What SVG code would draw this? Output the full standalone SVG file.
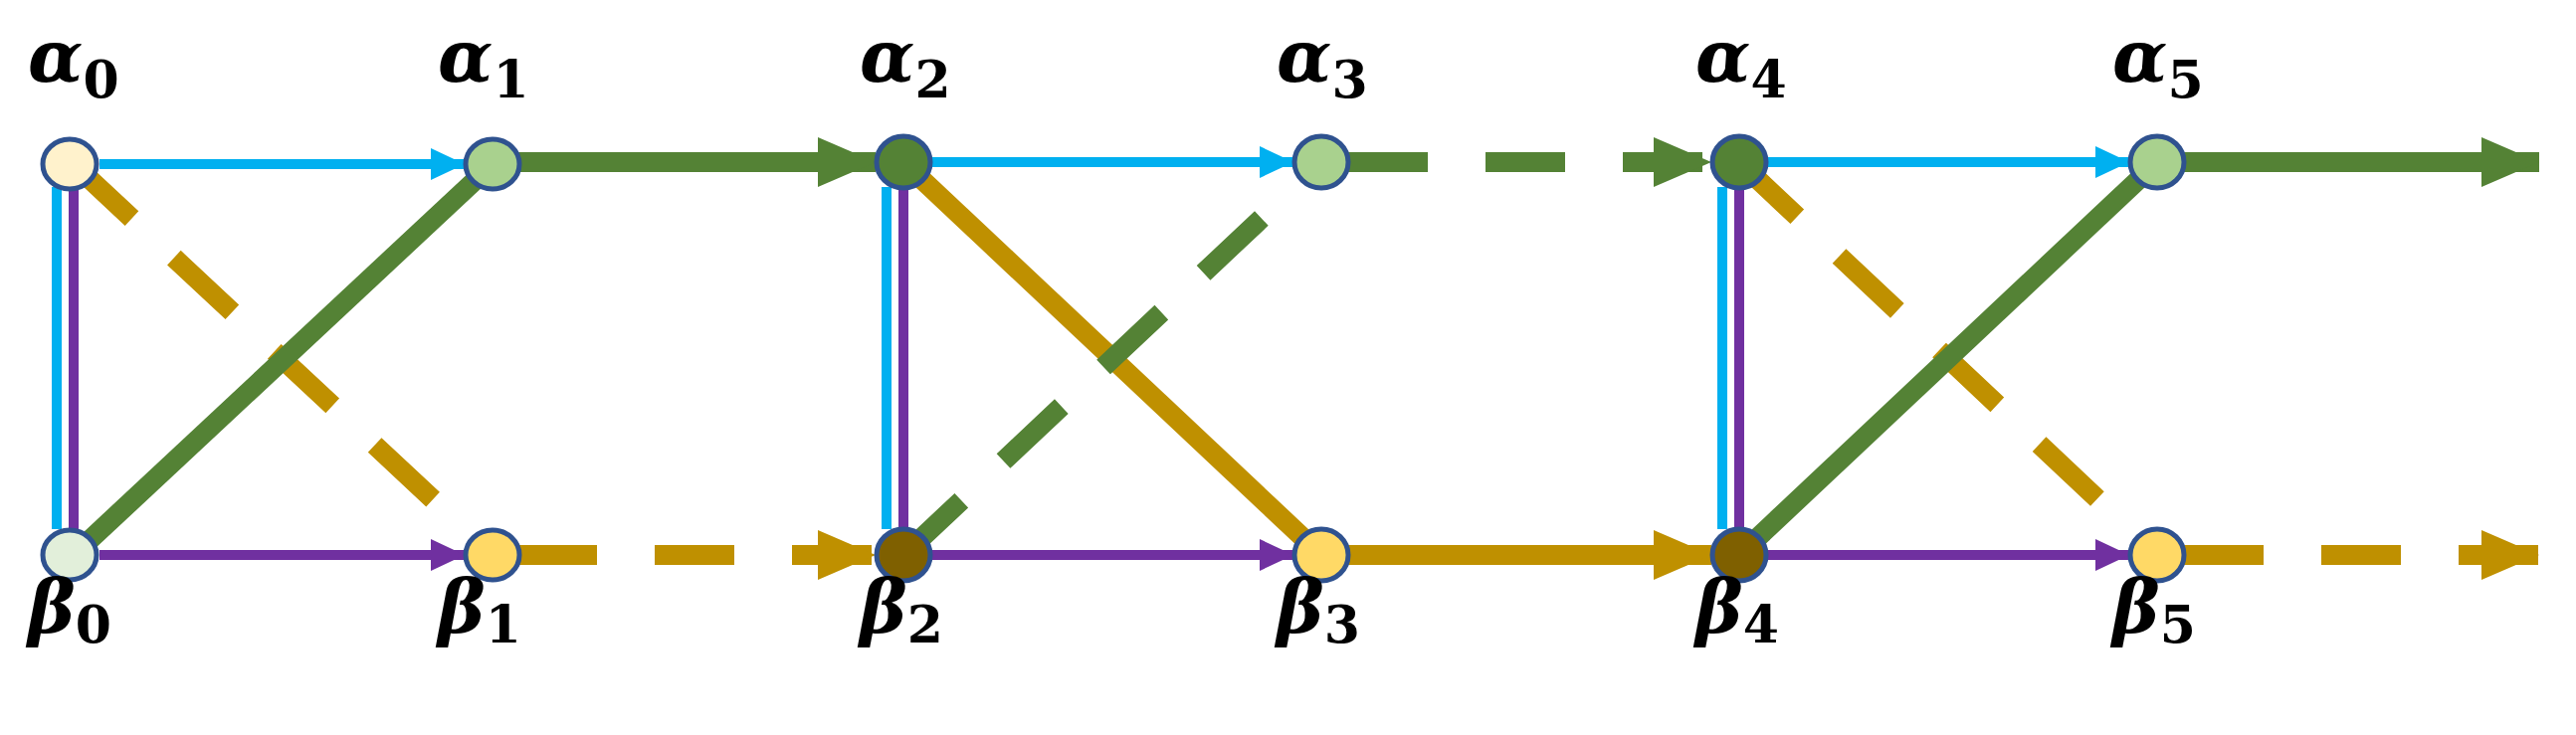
<svg xmlns="http://www.w3.org/2000/svg" width="2589" height="739" viewBox="0 0 2589 739">
<style>
.n{stroke:#2F528F;stroke-width:5}
.b{stroke:#00B0F0;stroke-width:10;fill:none}
.p{stroke:#7030A0;stroke-width:10;fill:none}
.g{stroke:#548235;stroke-width:20;fill:none}
.y{stroke:#BF9000;stroke-width:20;fill:none}
.d{stroke-dasharray:80 58}
.l{font-family:"DejaVu Serif",serif;font-weight:bold;font-style:italic;font-size:72px;fill:#000}
.s{font-family:"DejaVu Serif",serif;font-weight:bold;font-style:normal;font-size:52px;fill:#000}
</style>
<defs>
<marker id="ab" markerUnits="userSpaceOnUse" markerWidth="36" markerHeight="34" refX="34" refY="16" orient="auto"><path d="M0,0L34,16L0,32z" fill="#00B0F0"/></marker>
<marker id="ap" markerUnits="userSpaceOnUse" markerWidth="36" markerHeight="34" refX="34" refY="16" orient="auto"><path d="M0,0L34,16L0,32z" fill="#7030A0"/></marker>
<marker id="ag" markerUnits="userSpaceOnUse" markerWidth="60" markerHeight="52" refX="58" refY="25" orient="auto"><path d="M0,0L58,25L0,50z" fill="#548235"/></marker>
<marker id="ay" markerUnits="userSpaceOnUse" markerWidth="60" markerHeight="52" refX="58" refY="25" orient="auto"><path d="M0,0L58,25L0,50z" fill="#BF9000"/></marker>
</defs>
<g id="connectors">
<line class="b" x1="57" y1="188" x2="57" y2="532"/><line class="p" x1="74" y1="188" x2="74" y2="532"/>
<line class="b" x1="891" y1="188" x2="891" y2="532"/><line class="p" x1="908" y1="188" x2="908" y2="532"/>
<line class="b" x1="1731" y1="188" x2="1731" y2="532"/><line class="p" x1="1748" y1="188" x2="1748" y2="532"/>
<line class="b" x1="100" y1="165" x2="467" y2="165" marker-end="url(#ab)"/>
<line class="b" x1="936" y1="163" x2="1300" y2="163" marker-end="url(#ab)"/>
<line class="b" x1="1776" y1="163" x2="2140" y2="163" marker-end="url(#ab)"/>
<line class="p" x1="100" y1="558" x2="467" y2="558" marker-end="url(#ap)"/>
<line class="p" x1="936" y1="558" x2="1300" y2="558" marker-end="url(#ap)"/>
<line class="p" x1="1776" y1="558" x2="2140" y2="558" marker-end="url(#ap)"/>
<line class="y d" x1="74" y1="165" x2="495" y2="558"/>
<line class="y d" x1="520" y1="558" x2="880" y2="558" marker-end="url(#ay)"/>
<line class="y" x1="908" y1="163" x2="1328" y2="558"/>
<line class="y" x1="1355" y1="558" x2="1720" y2="558" marker-end="url(#ay)"/>
<line class="y d" x1="1748" y1="163" x2="2168" y2="558"/>
<line class="y d" x1="2195" y1="558" x2="2552" y2="558" marker-end="url(#ay)"/>
<line class="g" x1="74" y1="558" x2="495" y2="165"/>
<line class="g" x1="520" y1="163" x2="880" y2="163" marker-end="url(#ag)"/>
<line class="g d" x1="908" y1="558" x2="1328" y2="163"/>
<line class="g d" x1="1355" y1="163" x2="1720" y2="163" marker-end="url(#ag)"/>
<line class="g" x1="1748" y1="558" x2="2168" y2="163"/>
<line class="g" x1="2195" y1="163" x2="2552" y2="163" marker-end="url(#ag)"/>
</g>
<g id="a0"><ellipse class="n" cx="70" cy="165" rx="27" ry="25" fill="#FFF2CC"/><text class="l" x="28" y="82">α<tspan class="s" dy="16">0</tspan></text></g>
<g id="b0"><ellipse class="n" cx="70" cy="558" rx="27" ry="25" fill="#E2EFDA"/><text class="l" x="28" y="636">β<tspan class="s" dy="10">0</tspan></text></g>
<g id="a1"><ellipse class="n" cx="495" cy="165" rx="27" ry="25" fill="#A9D18E"/><text class="l" x="440" y="82">α<tspan class="s" dy="16">1</tspan></text></g>
<g id="b1"><ellipse class="n" cx="495" cy="558" rx="27" ry="25" fill="#FFD966"/><text class="l" x="440" y="636">β<tspan class="s" dy="10">1</tspan></text></g>
<g id="a2"><ellipse class="n" cx="908" cy="163" rx="27" ry="26" fill="#548235"/><text class="l" x="864" y="82">α<tspan class="s" dy="16">2</tspan></text></g>
<g id="b2"><ellipse class="n" cx="908" cy="558" rx="27" ry="26" fill="#7F6000"/><text class="l" x="864" y="636">β<tspan class="s" dy="10">2</tspan></text></g>
<g id="a3"><ellipse class="n" cx="1328" cy="163" rx="27" ry="26" fill="#A9D18E"/><text class="l" x="1283" y="82">α<tspan class="s" dy="16">3</tspan></text></g>
<g id="b3"><ellipse class="n" cx="1328" cy="558" rx="27" ry="26" fill="#FFD966"/><text class="l" x="1283" y="636">β<tspan class="s" dy="10">3</tspan></text></g>
<g id="a4"><ellipse class="n" cx="1748" cy="163" rx="27" ry="26" fill="#548235"/><text class="l" x="1704" y="82">α<tspan class="s" dy="16">4</tspan></text></g>
<g id="b4"><ellipse class="n" cx="1748" cy="558" rx="27" ry="26" fill="#7F6000"/><text class="l" x="1704" y="636">β<tspan class="s" dy="10">4</tspan></text></g>
<g id="a5"><ellipse class="n" cx="2168" cy="163" rx="27" ry="26" fill="#A9D18E"/><text class="l" x="2123" y="82">α<tspan class="s" dy="16">5</tspan></text></g>
<g id="b5"><ellipse class="n" cx="2168" cy="558" rx="27" ry="26" fill="#FFD966"/><text class="l" x="2123" y="636">β<tspan class="s" dy="10">5</tspan></text></g>
</svg>
